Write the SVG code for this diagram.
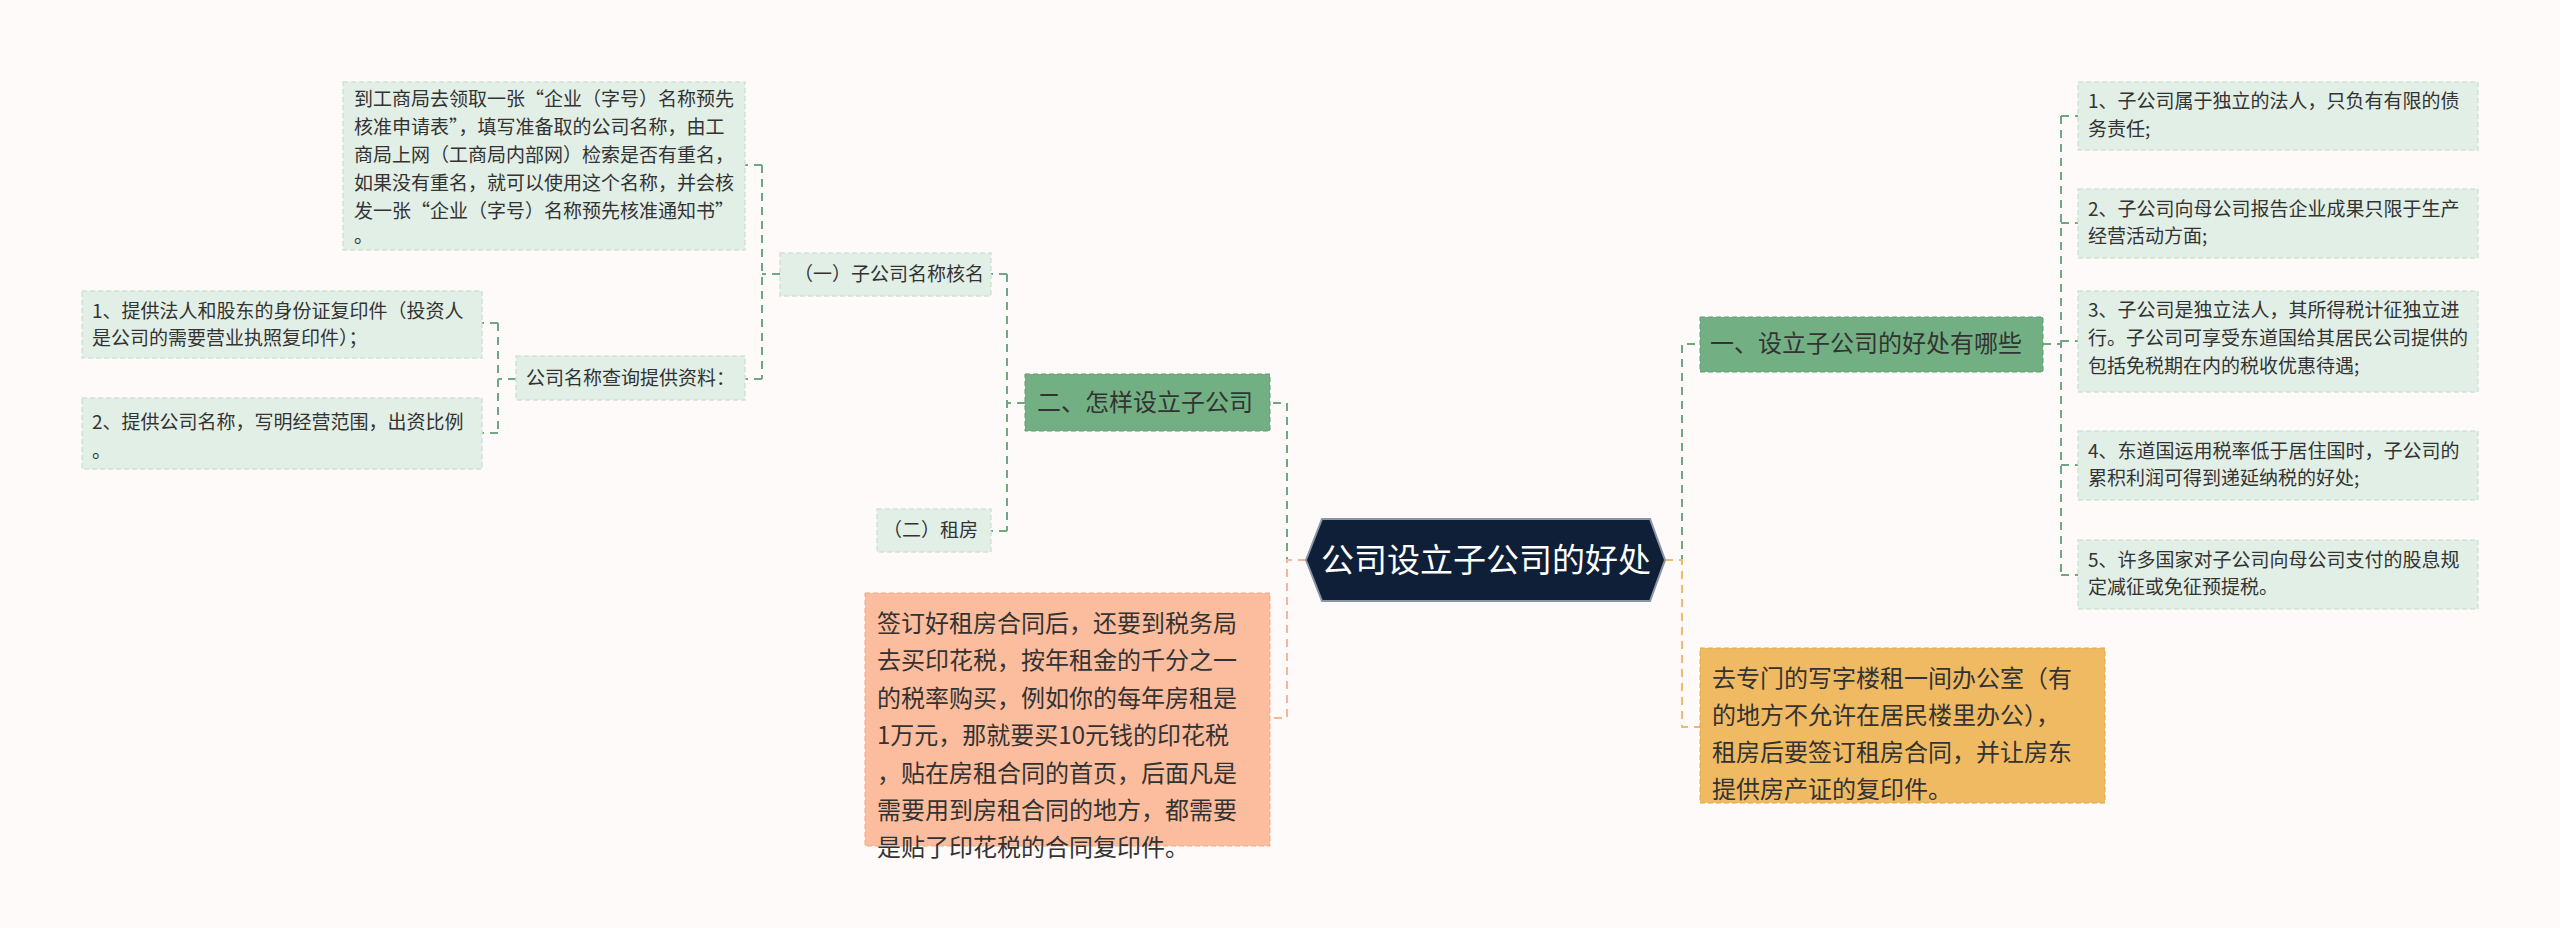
<svg xmlns="http://www.w3.org/2000/svg" width="2560" height="928" viewBox="0 0 2560 928">
<style>
text{font-family:"Noto Sans CJK SC","Noto Sans",sans-serif;fill:#333}
.leaf{fill:#e2efe6;stroke:#cfe3d6;stroke-width:1.5;stroke-dasharray:5 3}
.s{font-size:19px}
.c{fill:none;stroke-width:2;stroke-dasharray:8 6}
.g{stroke:#6fa783}
</style>
<rect width="2560" height="928" fill="#fdfaf9"/>
<g id="connectors">
<path class="c g" d="M1306 560H1287V403H1270"/>
<path class="c" stroke="#f2b89a" d="M1306 560H1287V718H1270"/>
<path class="c g" d="M1665 560H1682V344H1700"/>
<path class="c" stroke="#ecbd68" d="M1665 560H1682V727H1700"/>
<path class="c g" d="M2043 344H2061M2061 116V575M2061 116H2078M2061 223H2078M2061 341H2078M2061 465H2078M2061 575H2078"/>
<path class="c g" d="M1025 403H1007M1007 274V531M1007 274H991M1007 531H991"/>
<path class="c g" d="M780 274H762M762 165V379M762 165H745M762 379H745"/>
<path class="c g" d="M516 379H498M498 323V433M498 323H482M498 433H482"/>
</g>
<g id="root">
<polygon points="1306,560 1322,519 1650,519 1665,560 1650,601 1322,601" fill="#0f1f37" stroke="#8a95a3" stroke-width="2"/>
<text x="1486" y="572" font-size="33" fill="#fff" text-anchor="middle" style="fill:#fff">公司设立子公司的好处</text>
</g>
<g id="b1">
<rect x="1700" y="317" width="343" height="55" fill="#72b084" stroke="#5e9a70" stroke-dasharray="5 3"/>
<text x="1710" y="352" font-size="24">一、设立子公司的好处有哪些</text>
</g>
<g id="r1"><rect class="leaf" x="2078" y="82" width="400" height="68"/><text class="s" x="2088" y="108">1、子公司属于独立的法人，只负有有限的债</text><text class="s" x="2088" y="136">务责任;</text></g>
<g id="r2"><rect class="leaf" x="2078" y="189" width="400" height="69"/><text class="s" x="2088" y="216">2、子公司向母公司报告企业成果只限于生产</text><text class="s" x="2088" y="243">经营活动方面;</text></g>
<g id="r3"><rect class="leaf" x="2078" y="291" width="400" height="101"/><text class="s" x="2088" y="317">3、子公司是独立法人，其所得税计征独立进</text><text class="s" x="2088" y="345">行。子公司可享受东道国给其居民公司提供的</text><text class="s" x="2088" y="373">包括免税期在内的税收优惠待遇;</text></g>
<g id="r4"><rect class="leaf" x="2078" y="431" width="400" height="69"/><text class="s" x="2088" y="458">4、东道国运用税率低于居住国时，子公司的</text><text class="s" x="2088" y="485">累积利润可得到递延纳税的好处;</text></g>
<g id="r5"><rect class="leaf" x="2078" y="540" width="400" height="69"/><text class="s" x="2088" y="567">5、许多国家对子公司向母公司支付的股息规</text><text class="s" x="2088" y="594">定减征或免征预提税。</text></g>
<g id="yellow">
<rect x="1700" y="648" width="405" height="155" fill="#f0ba62" stroke="#e0a84c" stroke-dasharray="5 3"/>
<text font-size="24" x="1712"><tspan x="1712" y="687">去专门的写字楼租一间办公室（有</tspan><tspan x="1712" y="724">的地方不允许在居民楼里办公），</tspan><tspan x="1712" y="761">租房后要签订租房合同，并让房东</tspan><tspan x="1712" y="798">提供房产证的复印件。</tspan></text>
</g>
<g id="b2">
<rect x="1025" y="374" width="245" height="57" fill="#72b084" stroke="#5e9a70" stroke-dasharray="5 3"/>
<text x="1037" y="411" font-size="24">二、怎样设立子公司</text>
</g>
<g id="salmon">
<rect x="865" y="593" width="405" height="253" fill="#fbbd9d" stroke="#f0a882" stroke-dasharray="5 3"/>
<text font-size="24"><tspan x="877" y="632">签订好租房合同后，还要到税务局</tspan><tspan x="877" y="669">去买印花税，按年租金的千分之一</tspan><tspan x="877" y="707">的税率购买，例如你的每年房租是</tspan><tspan x="877" y="744">1万元，那就要买10元钱的印花税</tspan><tspan x="877" y="782">，贴在房租合同的首页，后面凡是</tspan><tspan x="877" y="819">需要用到房租合同的地方，都需要</tspan><tspan x="877" y="836" dy="20">是贴了印花税的合同复印件。</tspan></text>
</g>
<g id="n1"><rect class="leaf" x="780" y="253" width="211" height="43"/><text class="s" x="794" y="281">（一）子公司名称核名</text></g>
<g id="n2"><rect class="leaf" x="877" y="509" width="114" height="43"/><text class="s" x="883" y="537">（二）租房</text></g>
<g id="topbox"><rect class="leaf" x="343" y="82" width="402" height="168"/>
<text class="s"><tspan x="354" y="106">到工商局去领取一张“企业（字号）名称预先</tspan><tspan x="354" y="134">核准申请表”，填写准备取的公司名称，由工</tspan><tspan x="354" y="162">商局上网（工商局内部网）检索是否有重名，</tspan><tspan x="354" y="190">如果没有重名，就可以使用这个名称，并会核</tspan><tspan x="354" y="218">发一张“企业（字号）名称预先核准通知书”</tspan><tspan x="354" y="243">。</tspan></text></g>
<g id="query"><rect class="leaf" x="516" y="356" width="229" height="44"/><text class="s" x="526" y="385">公司名称查询提供资料：</text></g>
<g id="l1"><rect class="leaf" x="82" y="291" width="400" height="67"/><text class="s" x="92" y="318">1、提供法人和股东的身份证复印件（投资人</text><text class="s" x="92" y="345">是公司的需要营业执照复印件）；</text></g>
<g id="l2"><rect class="leaf" x="82" y="398" width="400" height="71"/><text class="s" x="92" y="429">2、提供公司名称，写明经营范围，出资比例</text><text class="s" x="92" y="458">。</text></g>
</svg>
